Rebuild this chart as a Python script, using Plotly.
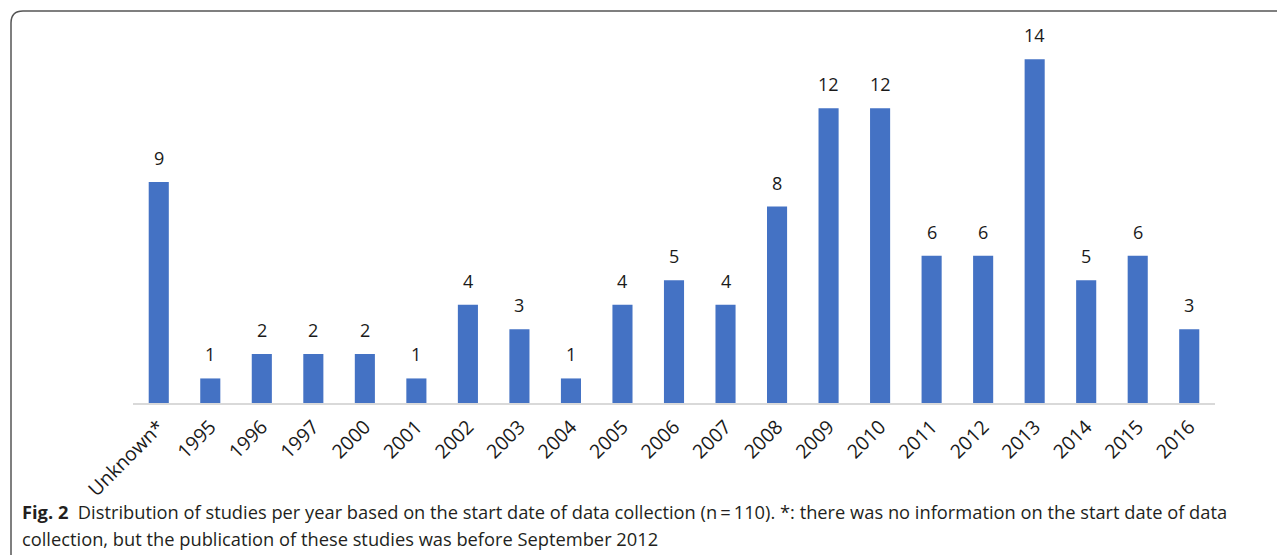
import plotly.graph_objects as go

categories = ["Unknown*", "1995", "1996", "1997", "2000", "2001", "2002", "2003", "2004",
              "2005", "2006", "2007", "2008", "2009", "2010", "2011", "2012", "2013",
              "2014", "2015", "2016"]
counts = [9, 1, 2, 2, 2, 1, 4, 3, 1, 4, 5, 4, 8, 12, 12, 6, 6, 14, 5, 6, 3]

caption_line1 = ("<b>Fig. 2</b>  Distribution of studies per year based on the start date of data "
                 "collection (n\u2009=\u2009110). *: there was no information on the start date of data")
caption_line2 = "collection, but the publication of these studies was before September 2012"

OFF = 8  # default page body margin
W, H = 1285 - OFF, 555 - OFF
L, R, T, B = 133 - OFF, 1215 - OFF, 10 - OFF, 403 - OFF
FONT = "Open Sans, Noto Sans, sans-serif"


def px(x):
    return (x - OFF - L) / (R - L)


def py(y):
    return (B - (y - OFF)) / (B - T)


fig = go.Figure(go.Bar(
    x=categories, y=counts,
    marker=dict(color="#4472c4", line=dict(width=0)),
    width=0.39,
))

# value labels: x given as the category index on the category axis
for i, v in enumerate(counts):
    fig.add_annotation(x=i, y=v, xref="x", yref="y", text=str(v), showarrow=False, yshift=24,
                       yanchor="middle", font=dict(family=FONT, size=18, color="#1a1a1a"))

fig.update_layout(
    width=W, height=H,
    margin=dict(l=L, r=W - R, t=T, b=H - B),
    paper_bgcolor="white", plot_bgcolor="white",
    showlegend=False,
    font=dict(family=FONT),
    xaxis=dict(
        type="category", categoryorder="array", categoryarray=categories,
        range=[-0.5, len(categories) - 0.5],
        tickangle=-45, showgrid=False, showline=True, linecolor="#d9d9d9", linewidth=1.5,
        ticks="", ticklabelstandoff=3, tickfont=dict(size=19.5, color="#1a1a1a"),
    ),
    yaxis=dict(range=[0, 16], visible=False),
)

# rounded frame
x0, y0, xr, r = 11, 11, 1285, 12
path = (f"M {px(x0)},{py(560)} L {px(x0)},{py(y0 + r)} "
        f"Q {px(x0)},{py(y0)} {px(x0 + r)},{py(y0)} L {px(xr)},{py(y0)}")
fig.add_shape(type="path", path=path, xref="paper", yref="paper",
              line=dict(color="#555555", width=1.5))

fig.add_annotation(text=caption_line1, xref="paper", yref="paper",
                   x=px(20), y=py(511), xanchor="left", yanchor="middle",
                   showarrow=False, font=dict(size=18.3, color="#231f20"))
fig.add_annotation(text=caption_line2, xref="paper", yref="paper",
                   x=px(20), y=py(538), xanchor="left", yanchor="middle",
                   showarrow=False, font=dict(size=18.3, color="#231f20"))

fig.write_html("out.html")
